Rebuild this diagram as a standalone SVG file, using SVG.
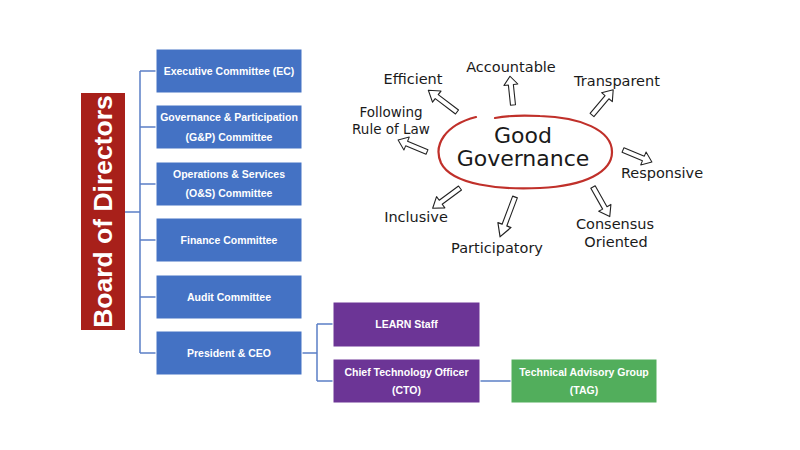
<svg xmlns="http://www.w3.org/2000/svg" width="800" height="450" viewBox="0 0 800 450">
<style>
.box{stroke:#ffffff;stroke-width:1}
.blue{fill:#4472C4}
.purple{fill:#6C3596}
.green{fill:#52AE5C}
.bt{font-family:"Liberation Sans",Arial,sans-serif;font-weight:bold;font-size:10.5px;fill:#ffffff;text-anchor:middle;dominant-baseline:central}
.conn{fill:none;stroke:#5B7FC6;stroke-width:1.5}
.hw{font-family:"DejaVu Sans",sans-serif;font-size:14.5px;fill:#1a1a1a;text-anchor:middle;dominant-baseline:central}
.sm{font-size:13.5px}
.big{font-size:22px}
.arr{fill:#ffffff;stroke:#222;stroke-width:1.1;stroke-linejoin:round}
</style>
<defs>
<path id="ha" d="M0,-2.5 L24,-2.5 L24,-7 L34,0 L24,7 L24,2.5 L0,2.5 Z"/>
</defs>
<rect width="800" height="450" fill="#ffffff"/>

<g id="connectors">
<path class="conn" d="M125,212 H140 M140,71 V353 M140,71 H156 M140,127 H156 M140,184 H156 M140,240 H156 M140,297 H156 M140,353 H156"/>
<path class="conn" d="M302,353 H317 M317,324 V381 M317,324 H333 M317,381 H333"/>
<path class="conn" d="M480,381 H511"/>
</g>

<g id="board">
<rect x="81" y="93" width="44" height="237" fill="#A8201A"/>
<text x="103" y="211.5" transform="rotate(-90 103 211.5)" font-family="'Liberation Sans',Arial,sans-serif" font-weight="bold" font-size="26.5" fill="#ffffff" text-anchor="middle" dominant-baseline="central">Board of Directors</text>
</g>

<g id="ec"><rect class="box blue" x="156" y="49" width="146" height="44"/><text class="bt" x="229" y="71">Executive Committee (EC)</text></g>
<g id="gp"><rect class="box blue" x="156" y="105" width="146" height="44"/><text class="bt" x="229" y="117">Governance &amp; Participation</text><text class="bt" x="229" y="136.5">(G&amp;P) Committee</text></g>
<g id="os"><rect class="box blue" x="156" y="162" width="146" height="44"/><text class="bt" x="229" y="174">Operations &amp; Services</text><text class="bt" x="229" y="193">(O&amp;S) Committee</text></g>
<g id="finance"><rect class="box blue" x="156" y="218" width="146" height="44"/><text class="bt" x="229" y="240">Finance Committee</text></g>
<g id="audit"><rect class="box blue" x="156" y="275" width="146" height="44"/><text class="bt" x="229" y="297">Audit Committee</text></g>
<g id="ceo"><rect class="box blue" x="156" y="331" width="146" height="44"/><text class="bt" x="229" y="353">President &amp; CEO</text></g>
<g id="staff"><rect class="box purple" x="333" y="302" width="147" height="45"/><text class="bt" x="406.5" y="324">LEARN Staff</text></g>
<g id="cto"><rect class="box purple" x="333" y="359" width="147" height="44"/><text class="bt" x="406.5" y="372">Chief Technology Officer</text><text class="bt" x="406.5" y="390">(CTO)</text></g>
<g id="tag"><rect class="box green" x="511" y="359" width="146" height="44"/><text class="bt" x="584" y="372">Technical Advisory Group</text><text class="bt" x="584" y="390">(TAG)</text></g>

<g id="good-governance">
<path d="M476,117 C445,125 433,145 441,163 C452,185 500,190 540,188 C585,186 612,172 612,152 C612,130 580,117 540,116 C520,115 505,116 495,118" fill="none" stroke="#C0302A" stroke-width="2.2" stroke-linecap="round"/>
<text class="hw big" x="523" y="135">Good</text>
<text class="hw big" x="523" y="158">Governance</text>
<use href="#ha" class="arr" transform="translate(457,112) rotate(-142.8) scale(1.06,1)"/>
<use href="#ha" class="arr" transform="translate(513,105) rotate(-96) scale(0.85,1)"/>
<use href="#ha" class="arr" transform="translate(592,115) rotate(-50) scale(0.97,1)"/>
<use href="#ha" class="arr" transform="translate(427,152) rotate(-157.5) scale(0.92,1)"/>
<use href="#ha" class="arr" transform="translate(623,150) rotate(22.5) scale(0.92,1)"/>
<use href="#ha" class="arr" transform="translate(460,188) rotate(143.5) scale(1,1)"/>
<use href="#ha" class="arr" transform="translate(515,197) rotate(110.6) scale(1.25,1)"/>
<use href="#ha" class="arr" transform="translate(593,187) rotate(60.5) scale(1,1)"/>
<text class="hw" x="413" y="79">Efficient</text>
<text class="hw" x="511" y="67">Accountable</text>
<text class="hw" x="617" y="81">Transparent</text>
<text class="hw sm" x="391" y="112">Following</text>
<text class="hw sm" x="391" y="129">Rule of Law</text>
<text class="hw" x="662" y="173">Responsive</text>
<text class="hw" x="416" y="217">Inclusive</text>
<text class="hw" x="497" y="248">Participatory</text>
<text class="hw" x="615" y="224">Consensus</text>
<text class="hw" x="616" y="242">Oriented</text>
</g>
</svg>
